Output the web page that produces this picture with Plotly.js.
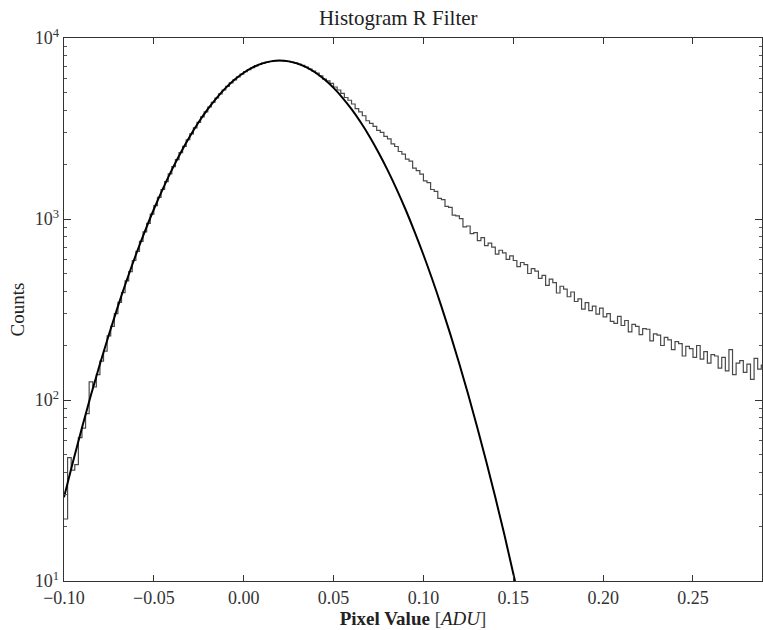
<!DOCTYPE html>
<html>
<head>
<meta charset="utf-8">
<script src="https://cdn.plot.ly/plotly-3.0.1.min.js"></script>
<style>html,body{margin:0;padding:0;background:#fff;}#chart{width:763px;height:630px;}</style>
</head>
<body>
<div id="chart"></div>
<script>
// Histogram: bins of width 0.002 starting at -0.100
const binStart = -0.100;
const binWidth = 0.002;
const histCounts = [
  22, 48, 41, 44, 62, 70, 84, 126, 118, 138,
  164, 186, 226, 255, 300, 346, 392, 455, 512, 590,
  662, 752, 848, 947, 1064, 1186, 1318, 1455, 1610, 1776,
  1948, 2128, 2325, 2522, 2741, 2956, 3190, 3418, 3665, 3908,
  4158, 4410, 4662, 4915, 5160, 5408, 5650, 5876, 6102, 6311,
  6512, 6694, 6862, 7015, 7140, 7256, 7349, 7418, 7464, 7495,
  7490, 7472, 7430, 7368, 7282, 7175, 7052, 6915, 6740, 6560,
  6390, 6170, 5930, 5790, 5620, 5360, 5160, 4950, 4690, 4530,
  4320, 4070, 3905, 3720, 3490, 3375, 3250, 3085, 3010, 2860,
  2770, 2600, 2515, 2360, 2285, 2140, 2090, 1910, 1850, 1770,
  1625, 1590, 1455, 1420, 1300, 1280, 1175, 1160, 1050, 1040,
  1005, 905, 915, 830, 840, 760, 790, 712, 735, 700,
  640, 672, 650, 598, 625, 590, 545, 575, 560, 500,
  532, 515, 470, 488, 430, 465, 445, 390, 425, 410,
  372, 395, 350, 362, 318, 345, 312, 330, 298, 322,
  288, 300, 272, 265, 290, 258, 275, 238, 262, 255,
  230, 248, 246, 212, 232, 228, 200, 222, 215, 190,
  210, 205, 175, 198, 192, 172, 200, 168, 185, 160,
  178, 175, 150, 172, 145, 190, 138, 160, 165, 142,
  158, 130, 170, 148, 156
];

// Gaussian fit curve
const fitX = [
  -0.100, -0.095, -0.090, -0.085, -0.080, -0.075, -0.070, -0.065, -0.060, -0.055,
  -0.050, -0.045, -0.040, -0.035, -0.030, -0.025, -0.020, -0.015, -0.010, -0.005,
  0.000, 0.005, 0.010, 0.015, 0.020, 0.025, 0.030, 0.035, 0.040, 0.045,
  0.050, 0.055, 0.060, 0.065, 0.070, 0.075, 0.080, 0.085, 0.090, 0.095,
  0.100, 0.105, 0.110, 0.115, 0.120, 0.125, 0.130, 0.135, 0.140, 0.145,
  0.150, 0.155
];
const fitY = [
  29.0, 45.6, 70.3, 106.5, 158.1, 230.3, 329.2, 461.5, 634.5, 855.3,
  1132, 1468, 1869, 2333, 2858, 3432, 4044, 4673, 5300, 5891,
  6427, 6877, 7215, 7427, 7499, 7427, 7215, 6877, 6427, 5891,
  5300, 4673, 4044, 3432, 2858, 2333, 1869, 1468, 1132, 855.3,
  634.5, 461.5, 329.2, 230.3, 158.1, 106.5, 70.3, 45.6, 29.0, 18.1,
  11.0, 6.6
];

const yTickVals = [10, 100, 1000, 10000];
const yTickText = ['10<sup>1</sup>', '10<sup>2</sup>', '10<sup>3</sup>', '10<sup>4</sup>'];
const xTickVals = [-0.10, -0.05, 0.00, 0.05, 0.10, 0.15, 0.20, 0.25];

// step-line coordinates from bin edges
const histX = [], histY = [];
for (let i = 0; i < histCounts.length; i++) {
  histX.push(+(binStart + i * binWidth).toFixed(4));
  histY.push(histCounts[i]);
}
histX.push(+(binStart + histCounts.length * binWidth).toFixed(4));
histY.push(histCounts[histCounts.length - 1]);

const minorVals = [];
for (let d = 10; d < 10000; d *= 10) for (let m = 2; m <= 9; m++) minorVals.push(d * m);

const font = 'Liberation Serif, DejaVu Serif, serif';

const traces = [
  { x: histX, y: histY, type: 'scatter', mode: 'lines',
    line: { shape: 'hv', color: '#4a4a4a', width: 1.2 }, hoverinfo: 'skip' },
  { x: fitX, y: fitY, type: 'scatter', mode: 'lines',
    line: { shape: 'spline', color: '#000000', width: 2 }, hoverinfo: 'skip' }
];

const layout = {
  width: 763, height: 630,
  margin: { l: 64, r: 1, t: 38, b: 49 },
  paper_bgcolor: '#ffffff', plot_bgcolor: '#ffffff',
  showlegend: false,
  font: { family: font, color: '#222222', size: 17 },
  title: { text: 'Histogram R Filter', font: { family: font, size: 21, color: '#222222' },
           x: 0.522, xanchor: 'center', yref: 'container', y: 0.972, yanchor: 'middle' },
  xaxis: {
    range: [-0.1, 0.2884], tickvals: xTickVals, tickformat: '.2f',
    ticks: 'inside', ticklen: 6, tickcolor: '#333', tickwidth: 1,
    showline: true, linecolor: '#333', linewidth: 1.3, mirror: 'ticks',
    showgrid: false, zeroline: false,
    tickfont: { family: font, size: 18, color: '#333' },
    title: { text: '<b>Pixel Value</b> <span style="color:#444">[</span><i>ADU</i><span style="color:#444">]</span>',
             font: { family: font, size: 19, color: '#222' }, standoff: 4 }
  },
  yaxis: {
    type: 'log', range: [1, 4], tickvals: yTickVals, ticktext: yTickText,
    ticks: 'inside', ticklen: 7, tickcolor: '#333', tickwidth: 1,
    minor: { tickvals: minorVals, ticks: 'inside', ticklen: 3, tickcolor: '#555', tickwidth: 1, showgrid: false },
    showline: true, linecolor: '#333', linewidth: 1.3, mirror: 'ticks',
    showgrid: false, zeroline: false,
    tickfont: { family: font, size: 18, color: '#333' },
    title: { text: 'Counts', font: { family: font, size: 19, color: '#222' }, standoff: 5 }
  }
};

Plotly.newPlot('chart', traces, layout, { staticPlot: true, displayModeBar: false });
</script>
</body>
</html>
